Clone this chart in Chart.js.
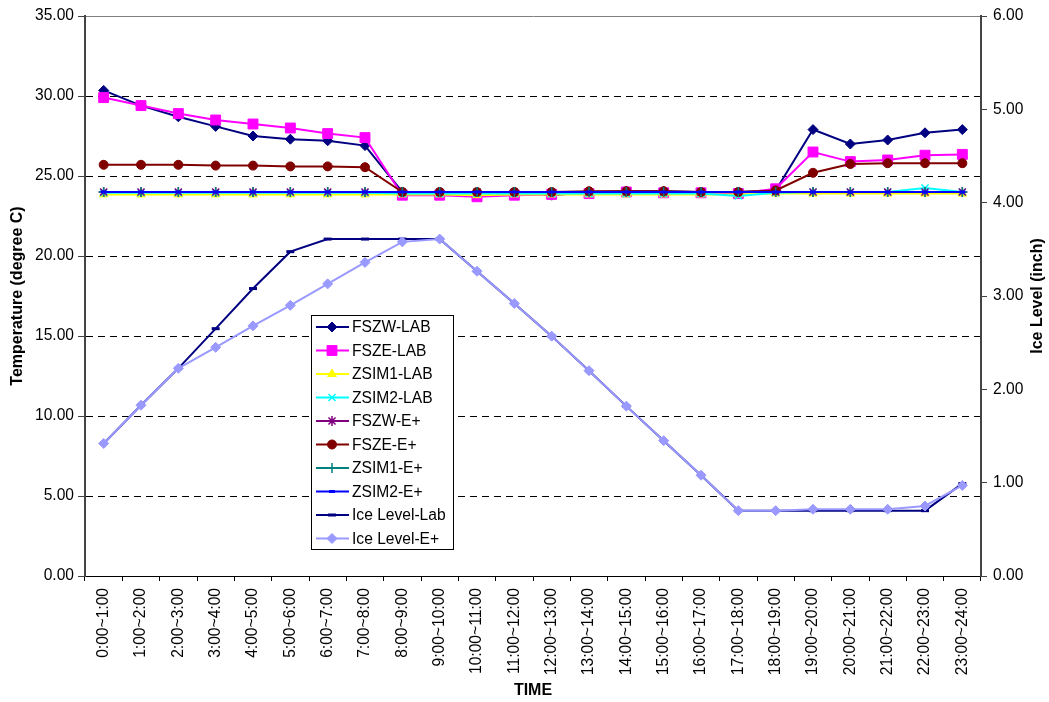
<!DOCTYPE html>
<html>
<head>
<meta charset="utf-8">
<title>Temperature and Ice Level</title>
<script src="https://cdn.jsdelivr.net/npm/chart.js@4.4.1/dist/chart.umd.min.js"></script>
<style>
  html, body { margin: 0; padding: 0; background: #fff; }
  #wrap { width: 1049px; height: 702px; }
</style>
</head>
<body>
<div id="wrap"><canvas id="iceChart" width="1049" height="702"></canvas></div>
<script>
// hourly periods
const hours = [
  '0:00~1:00', '1:00~2:00', '2:00~3:00', '3:00~4:00', '4:00~5:00', '5:00~6:00',
  '6:00~7:00', '7:00~8:00', '8:00~9:00', '9:00~10:00', '10:00~11:00', '11:00~12:00',
  '12:00~13:00', '13:00~14:00', '14:00~15:00', '15:00~16:00', '16:00~17:00', '17:00~18:00',
  '18:00~19:00', '19:00~20:00', '20:00~21:00', '21:00~22:00', '22:00~23:00', '23:00~24:00'
];

// temperatures (degree C)
const fszwLab = [30.35, 29.4, 28.7, 28.1, 27.5, 27.3, 27.2, 26.9, 24.0, 24.0, 24.0, 24.0,
                 23.8, 24.0, 24.05, 24.05, 24.0, 24.0, 24.1, 27.9, 27.0, 27.25, 27.7, 27.9];
const fszeLab = [29.9, 29.4, 28.9, 28.5, 28.25, 28.0, 27.65, 27.4, 23.8, 23.8, 23.7, 23.8,
                 23.85, 23.9, 24.0, 23.95, 23.95, 23.9, 24.2, 26.5, 25.9, 26.0, 26.3, 26.35];
const zsim1Lab = [23.85, 23.85, 23.85, 23.85, 23.85, 23.85, 23.85, 23.85, 23.85, 23.85, 23.8, 23.85,
                  23.85, 23.85, 23.85, 23.85, 23.85, 23.85, 23.9, 23.9, 23.9, 23.9, 23.9, 23.9];
const zsim2Lab = [23.95, 23.95, 23.95, 23.95, 23.95, 23.95, 23.95, 23.95, 23.9, 23.9, 23.9, 23.9,
                  23.9, 23.9, 23.9, 23.9, 23.9, 23.75, 23.95, 24.0, 24.0, 24.0, 24.25, 24.0];
const fszwEp = [24.0, 24.0, 24.0, 24.0, 24.0, 24.0, 24.0, 24.0, 24.0, 24.0, 24.0, 24.0,
                24.0, 24.0, 24.0, 24.0, 24.0, 24.0, 24.0, 24.0, 24.0, 24.0, 24.0, 24.0];
const fszeEp = [25.7, 25.7, 25.7, 25.65, 25.65, 25.6, 25.6, 25.55, 24.0, 24.0, 24.0, 24.0,
                24.0, 24.05, 24.05, 24.05, 24.0, 24.0, 24.1, 25.2, 25.75, 25.8, 25.8, 25.8];
const zsim1Ep = [24.0, 24.0, 24.0, 24.0, 24.0, 24.0, 24.0, 24.0, 24.0, 24.0, 24.0, 24.0,
                 24.0, 24.0, 24.0, 24.0, 24.0, 24.0, 24.0, 24.0, 24.0, 24.0, 24.0, 24.0];
const zsim2Ep = [24.0, 24.0, 24.0, 24.0, 24.0, 24.0, 24.0, 24.0, 24.0, 24.0, 24.0, 24.0,
                 24.0, 24.0, 24.0, 24.0, 24.0, 24.0, 24.0, 24.0, 24.0, 24.0, 24.0, 24.0];

// ice level (inch)
const iceLab = [1.42, 1.83, 2.225, 2.65, 3.08, 3.475, 3.61, 3.61, 3.61, 3.61, 3.265, 2.92,
                2.57, 2.20, 1.82, 1.45, 1.08, 0.70, 0.70, 0.70, 0.70, 0.70, 0.70, 0.99];
const iceEp = [1.42, 1.83, 2.225, 2.45, 2.68, 2.90, 3.13, 3.36, 3.58, 3.61, 3.265, 2.92,
               2.57, 2.20, 1.82, 1.45, 1.08, 0.70, 0.70, 0.715, 0.715, 0.715, 0.75, 0.97];

const FONT = '"Liberation Sans", Arial, sans-serif';
const TICK_SIZE = 15.6;
const TITLE_SIZE = 16;

function series(label, data, color, style, radius, axis, extra) {
  return Object.assign({
    label: label,
    data: data,
    yAxisID: axis,
    borderColor: color,
    backgroundColor: color,
    borderWidth: 2,
    pointStyle: style,
    pointRadius: radius,
    pointBackgroundColor: color,
    pointBorderColor: color,
    pointBorderWidth: 1,
    tension: 0
  }, extra || {});
}

const datasets = [
  series('FSZW-LAB', fszwLab, '#000080', 'rectRot', 5, 'yT'),
  series('FSZE-LAB', fszeLab, '#FF00FF', 'rect', 7, 'yT'),
  series('ZSIM1-LAB', zsim1Lab, '#FFFF00', 'triangle', 5, 'yT'),
  series('ZSIM2-LAB', zsim2Lab, '#00FFFF', 'crossRot', 5, 'yT', { pointBorderWidth: 1.5 }),
  series('FSZW-E+', fszwEp, '#800080', 'star', 5, 'yT', { pointBorderWidth: 1.5 }),
  series('FSZE-E+', fszeEp, '#800000', 'circle', 4.5, 'yT'),
  series('ZSIM1-E+', zsim1Ep, '#008080', 'cross', 5, 'yT', { pointBorderWidth: 1.5 }),
  series('ZSIM2-E+', zsim2Ep, '#0000FF', 'line', 3, 'yT', { pointBorderWidth: 3 }),
  series('Ice Level-Lab', iceLab, '#000080', 'line', 4, 'yI', { pointBorderWidth: 3 }),
  series('Ice Level-E+', iceEp, '#9999FF', 'rectRot', 5, 'yI')
];
// later series are painted over earlier ones
datasets.forEach((d, i) => { d.order = -i; });

// legend box sitting inside the plot
const legendBox = { x: 311, y: 315, w: 142, h: 234, row: 23.5 };
const insideLegend = {
  id: 'insideLegend',
  afterDatasetsDraw(chart) {
    const ctx = chart.ctx;
    const b = legendBox;
    ctx.save();
    ctx.fillStyle = '#fff';
    ctx.fillRect(b.x, b.y, b.w, b.h);
    ctx.strokeStyle = '#000';
    ctx.lineWidth = 1;
    ctx.setLineDash([]);
    ctx.strokeRect(b.x + 0.5, b.y + 0.5, b.w, b.h);
    ctx.font = '15.6px ' + FONT;
    ctx.textBaseline = 'middle';
    ctx.textAlign = 'left';
    chart.data.datasets.forEach((ds, i) => {
      const cy = b.y + 12 + i * b.row;
      ctx.strokeStyle = ds.borderColor;
      ctx.lineWidth = 2;
      ctx.beginPath();
      ctx.moveTo(b.x + 5, cy);
      ctx.lineTo(b.x + 38, cy);
      ctx.stroke();
      ctx.fillStyle = ds.pointBackgroundColor;
      ctx.strokeStyle = ds.pointBorderColor;
      ctx.lineWidth = ds.pointBorderWidth;
      Chart.helpers.drawPoint(ctx, {
        pointStyle: ds.pointStyle, radius: ds.pointRadius,
        borderWidth: ds.pointBorderWidth, rotation: 0
      }, b.x + 21, cy);
      ctx.fillStyle = '#000';
      ctx.fillText(ds.label, b.x + 41, cy + 1);
    });
    ctx.restore();
  }
};

// right axis title, reading bottom to top like the left one
const rightTitle = {
  id: 'rightTitle',
  afterDraw(chart) {
    const ctx = chart.ctx;
    const area = chart.chartArea;
    ctx.save();
    ctx.translate(chart.width - 11.5, (area.top + area.bottom) / 2);
    ctx.rotate(-Math.PI / 2);
    ctx.font = 'bold ' + TITLE_SIZE + 'px ' + FONT;
    ctx.fillStyle = '#000';
    ctx.textAlign = 'center';
    ctx.textBaseline = 'middle';
    ctx.fillText('Ice Level (inch)', 0, 0);
    ctx.restore();
  }
};

new Chart(document.getElementById('iceChart'), {
  type: 'line',
  data: { labels: hours, datasets: datasets },
  plugins: [insideLegend, rightTitle],
  options: {
    responsive: false,
    animation: false,
    events: [],
    layout: { padding: { top: 16, left: 0, right: 0, bottom: 0 } },
    plugins: {
      legend: { display: false },
      tooltip: { enabled: false }
    },
    scales: {
      x: {
        type: 'category',
        offset: true,
        afterFit: s => { s.height = 126; },
        grid: {
          offset: true,
          drawOnChartArea: false,
          tickLength: 5,
          tickColor: '#000'
        },
        border: { color: '#000', width: 1 },
        ticks: {
          autoSkip: false,
          maxRotation: 90,
          minRotation: 90,
          padding: 7,
          color: '#000',
          font: { family: FONT, size: TICK_SIZE }
        },
        title: {
          display: true,
          text: 'TIME',
          color: '#000',
          padding: { top: 0, bottom: 1.5 },
          font: { family: FONT, size: TITLE_SIZE, weight: 'bold' }
        }
      },
      yT: {
        position: 'left',
        min: 0,
        max: 35,
        afterFit: s => { s.width = 85; },
        grid: {
          color: c => c.tick.value === 0 ? 'rgba(0,0,0,0)' : (c.tick.value === 35 ? '#808080' : '#000'),
          lineWidth: 1,
          tickLength: 7,
          tickColor: '#444'
        },
        border: {
          color: '#444',
          width: 2,
          dash: c => (c.tick && c.tick.value === 35) ? [] : [7, 5]
        },
        ticks: {
          stepSize: 5,
          padding: 4,
          color: '#000',
          font: { family: FONT, size: TICK_SIZE },
          callback: v => Number(v).toFixed(2)
        },
        title: {
          display: true,
          text: 'Temperature (degree C)',
          color: '#000',
          padding: { top: 8, bottom: 0 },
          font: { family: FONT, size: TITLE_SIZE, weight: 'bold' }
        }
      },
      yI: {
        position: 'right',
        min: 0,
        max: 6,
        afterFit: s => { s.width = 68; },
        grid: {
          drawOnChartArea: false,
          tickLength: 6,
          tickColor: '#444'
        },
        border: { color: '#444', width: 2 },
        ticks: {
          stepSize: 1,
          padding: 6,
          color: '#000',
          font: { family: FONT, size: TICK_SIZE },
          callback: v => Number(v).toFixed(2)
        }
      }
    }
  }
});
</script>
</body>
</html>
